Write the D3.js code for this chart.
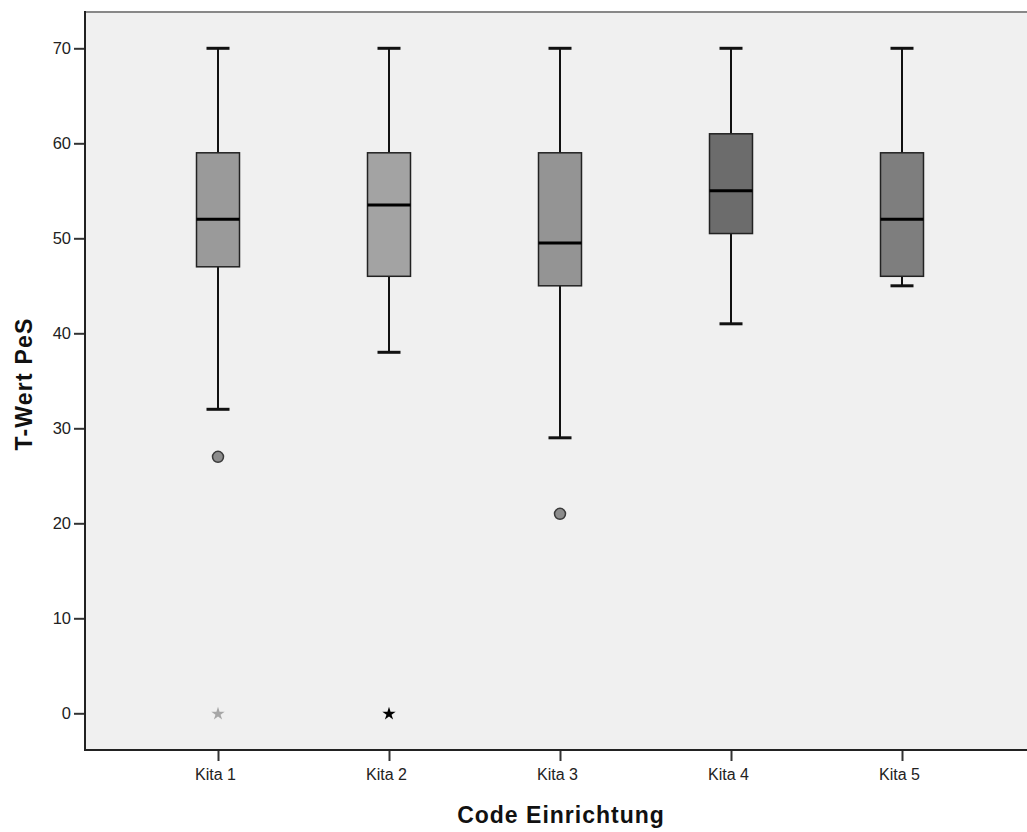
<!DOCTYPE html>
<html>
<head>
<meta charset="utf-8">
<script src="https://cdn.jsdelivr.net/npm/d3@7"></script>
<style>
	body { margin: 0; background: #fff; }
	text { font-family: "Liberation Sans", Arial, sans-serif; }
</style>
</head>
<body>
<div id="chart"></div>
<script>
const categories = ["Kita 1", "Kita 2", "Kita 3", "Kita 4", "Kita 5"];
const whiskerLow = [32, 38, 29, 41, 45];
const q1 = [47, 46, 45, 50.5, 46];
const median = [52, 53.5, 49.5, 55, 52];
const q3 = [59, 59, 59, 61, 59];
const whiskerHigh = [70, 70, 70, 70, 70];
// outliers: [category index, value, kind]
const outliers = [
	[0, 27, "circle"],
	[0, 0, "star"],
	[1, 0, "star"],
	[2, 21, "circle"]
];
const yTicks = [0, 10, 20, 30, 40, 50, 60, 70];

const boxFills = ["#9a9a9a", "#a3a3a3", "#949494", "#6c6c6c", "#7e7e7e"];
const starColors = ["#a6a6a6", "#000000"];

const w = 1027;
const h = 832;
const plotLeft = 85;
const plotTop = 12;
const plotBottom = 750;

const svg = d3
	.select("#chart")
	.append("svg")
	.attr("width", w)
	.attr("height", h);

const xScale = d3
	.scalePoint()
	.domain(categories)
	.range([218, 902]);

const yScale = d3
	.scaleLinear()
	.domain([0, 70])
	.range([713.3, 48.3]);

svg
	.append("rect")
	.attr("x", plotLeft)
	.attr("y", plotTop)
	.attr("width", w - plotLeft)
	.attr("height", plotBottom - plotTop)
	.attr("fill", "#f0f0f0");

const boxW = 43;
const capW = 23;

const groups = svg
	.selectAll(".box")
	.data(categories)
	.enter()
	.append("g")
	.attr("class", "box");

// whiskers
groups
	.append("line")
	.attr("x1", (d) => xScale(d))
	.attr("x2", (d) => xScale(d))
	.attr("y1", (d, i) => yScale(whiskerHigh[i]))
	.attr("y2", (d, i) => yScale(q3[i]))
	.attr("stroke", "#111")
	.attr("stroke-width", 2);
groups
	.append("line")
	.attr("x1", (d) => xScale(d))
	.attr("x2", (d) => xScale(d))
	.attr("y1", (d, i) => yScale(q1[i]))
	.attr("y2", (d, i) => yScale(whiskerLow[i]))
	.attr("stroke", "#111")
	.attr("stroke-width", 2);

// caps
[whiskerHigh, whiskerLow].forEach((arr) => {
	groups
		.append("line")
		.attr("x1", (d) => xScale(d) - capW / 2)
		.attr("x2", (d) => xScale(d) + capW / 2)
		.attr("y1", (d, i) => yScale(arr[i]))
		.attr("y2", (d, i) => yScale(arr[i]))
		.attr("stroke", "#111")
		.attr("stroke-width", 3);
});

groups
	.append("rect")
	.attr("x", (d) => xScale(d) - boxW / 2)
	.attr("y", (d, i) => yScale(q3[i]))
	.attr("width", boxW)
	.attr("height", (d, i) => yScale(q1[i]) - yScale(q3[i]))
	.attr("fill", (d, i) => boxFills[i])
	.attr("stroke", "#222")
	.attr("stroke-width", 1.5);

groups
	.append("line")
	.attr("x1", (d) => xScale(d) - boxW / 2)
	.attr("x2", (d) => xScale(d) + boxW / 2)
	.attr("y1", (d, i) => yScale(median[i]))
	.attr("y2", (d, i) => yScale(median[i]))
	.attr("stroke", "#000")
	.attr("stroke-width", 3);

// outliers
svg
	.selectAll(".out-circle")
	.data(outliers.filter((o) => o[2] === "circle"))
	.enter()
	.append("circle")
	.attr("class", "out-circle")
	.attr("cx", (d) => xScale(categories[d[0]]))
	.attr("cy", (d) => yScale(d[1]))
	.attr("r", 5.5)
	.attr("fill", "#8c8c8c")
	.attr("stroke", "#3a3a3a")
	.attr("stroke-width", 1.5);

const star = d3.symbol().type(d3.symbolStar).size(55);
svg
	.selectAll(".out-star")
	.data(outliers.filter((o) => o[2] === "star"))
	.enter()
	.append("path")
	.attr("class", "out-star")
	.attr("d", star)
	.attr(
		"transform",
		(d) => "translate(" + xScale(categories[d[0]]) + "," + (yScale(d[1]) + 0.5) + ")"
	)
	.attr("fill", (d, i) => starColors[i]);

// axes
const yAxis = d3
	.axisLeft(yScale)
	.tickValues(yTicks)
	.tickSize(11)
	.tickPadding(3);
const xAxis = d3.axisBottom(xScale).tickSize(11).tickPadding(8);

const gy = svg
	.append("g")
	.attr("transform", "translate(" + plotLeft + ",0)")
	.call(yAxis);
gy.select(".domain").remove();
gy.selectAll("line").attr("stroke", "#333").attr("stroke-width", 2);
gy.selectAll("text").attr("font-size", 16.5).attr("fill", "#222");

const gx = svg
	.append("g")
	.attr("transform", "translate(0," + plotBottom + ")")
	.call(xAxis);
gx.select(".domain").remove();
gx.selectAll("line").attr("stroke", "#333").attr("stroke-width", 2);
gx.selectAll("text")
	.attr("font-size", 16)
	.attr("fill", "#222")
	.attr("dx", -3);

// frame
svg
	.append("line")
	.attr("x1", plotLeft)
	.attr("x2", w)
	.attr("y1", plotTop)
	.attr("y2", plotTop)
	.attr("stroke", "#888")
	.attr("stroke-width", 2);
svg
	.append("line")
	.attr("x1", plotLeft)
	.attr("x2", plotLeft)
	.attr("y1", plotTop - 1)
	.attr("y2", plotBottom + 1)
	.attr("stroke", "#222")
	.attr("stroke-width", 2);
svg
	.append("line")
	.attr("x1", plotLeft)
	.attr("x2", w)
	.attr("y1", plotBottom)
	.attr("y2", plotBottom)
	.attr("stroke", "#222")
	.attr("stroke-width", 2);

svg
	.append("text")
	.attr("x", 561)
	.attr("y", 823)
	.attr("text-anchor", "middle")
	.attr("font-size", 23)
	.attr("font-weight", "bold")
	.attr("letter-spacing", 1)
	.attr("fill", "#111")
	.text("Code Einrichtung");

svg
	.append("text")
	.attr("transform", "translate(32,384) rotate(-90)")
	.attr("text-anchor", "middle")
	.attr("font-size", 23)
	.attr("font-weight", "bold")
	.attr("letter-spacing", 1.2)
	.attr("fill", "#111")
	.text("T-Wert PeS");
</script>
</body>
</html>
